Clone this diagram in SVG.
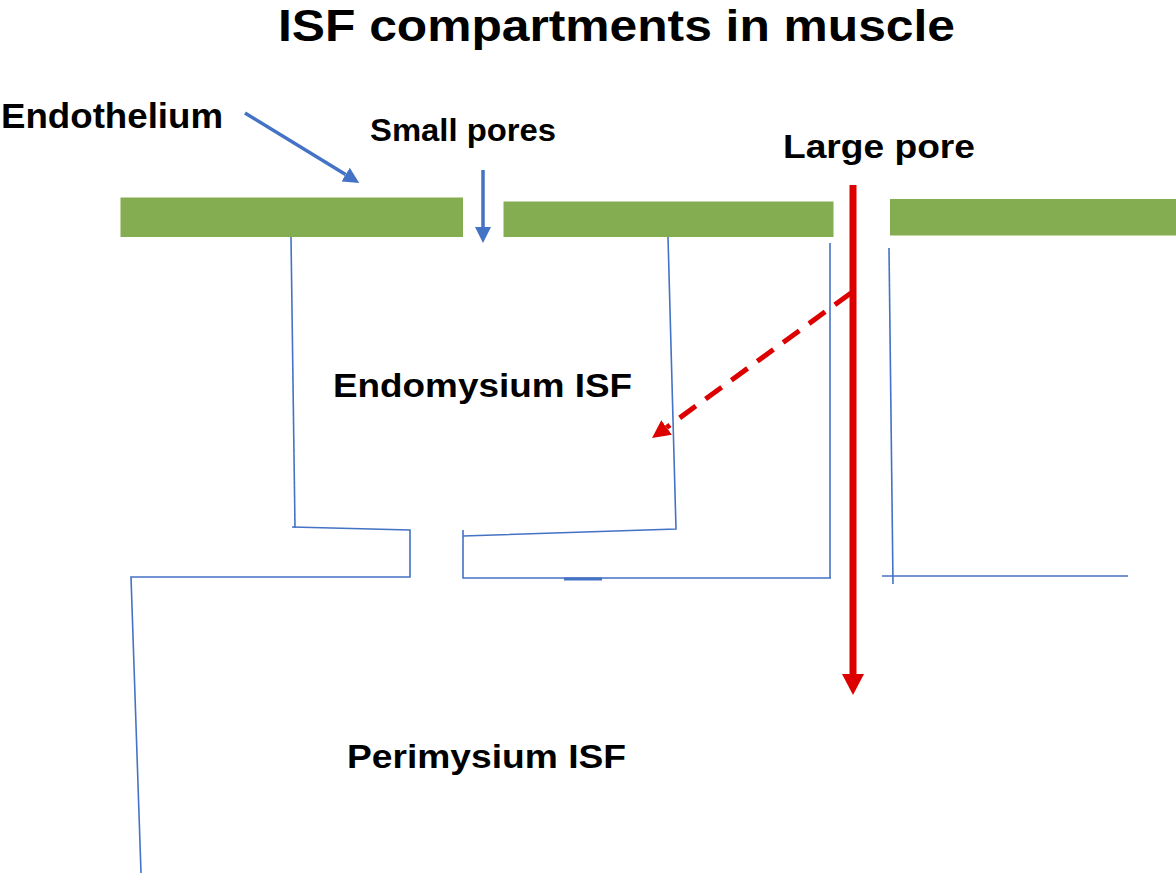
<svg xmlns="http://www.w3.org/2000/svg" width="1176" height="876" viewBox="0 0 1176 876">
<style>
text{font-family:"Liberation Sans",Arial,sans-serif;font-weight:bold;fill:#000}
.bar{fill:#84AC50}
.thin{fill:none;stroke:#4472C4;stroke-width:1.6;stroke-linejoin:miter}
.barrow{fill:none;stroke:#4472C4;stroke-width:3.5}
.red{fill:none;stroke:#DD0000;stroke-width:7}
.reddash{fill:none;stroke:#DD0000;stroke-width:5;stroke-dasharray:20 12}
</style>
<defs>
<marker id="bh" viewBox="0 0 16 16" refX="0" refY="8" markerWidth="16" markerHeight="16" markerUnits="userSpaceOnUse" orient="auto"><path d="M0,0 L16,8 L0,16 z" fill="#4472C4"/></marker>
<marker id="rh" viewBox="0 0 18 18" refX="0" refY="9" markerWidth="18" markerHeight="18" markerUnits="userSpaceOnUse" orient="auto"><path d="M0,0 L18,9 L0,18 z" fill="#DD0000"/></marker>
<marker id="rhb" viewBox="0 0 21 22" refX="0" refY="11" markerWidth="21" markerHeight="22" markerUnits="userSpaceOnUse" orient="auto"><path d="M0,0 L21,11 L0,22 z" fill="#DD0000"/></marker>
</defs>
<rect width="1176" height="876" fill="#fff"/>
<g id="title"><text x="278" y="40.5" font-size="45" textLength="677" lengthAdjust="spacingAndGlyphs">ISF compartments in muscle</text></g>
<g id="endothelium">
<rect class="bar" x="120.5" y="197.5" width="342.5" height="39.5"/>
<rect class="bar" x="503.5" y="201.5" width="330" height="35.5"/>
<rect class="bar" x="890" y="199" width="286" height="36.5"/>
</g>
<g id="labels">
<text x="1" y="128" font-size="35" textLength="222" lengthAdjust="spacingAndGlyphs">Endothelium</text>
<text x="370" y="141" font-size="31" textLength="186" lengthAdjust="spacingAndGlyphs">Small pores</text>
<text x="783" y="158" font-size="34" textLength="192" lengthAdjust="spacingAndGlyphs">Large pore</text>
<text x="333" y="397" font-size="34" textLength="299" lengthAdjust="spacingAndGlyphs">Endomysium ISF</text>
<text x="347" y="768" font-size="33" textLength="279" lengthAdjust="spacingAndGlyphs">Perimysium ISF</text>
</g>
<g id="compartments">
<path class="thin" d="M291,237 L295,528"/>
<path class="thin" d="M292,527 L410,530 L410,577 L131,577 L141,873"/>
<path class="thin" d="M463,530 L463,578 L831,578"/>
<path class="thin" d="M463,536 L676,529 L668,237"/>
<path d="M564,579 L602,579" stroke="#4472C4" stroke-width="3"/>
<path class="thin" d="M830,243 L830,578"/>
<path class="thin" d="M889,248 L893,584"/>
<path class="thin" d="M882,576 L1128,576"/>
</g>
<g id="connectors">
<path class="barrow" d="M245,113 L345.6,174.6" marker-end="url(#bh)"/>
<path class="barrow" d="M483,170 L483,227" marker-end="url(#bh)"/>
<path class="red" d="M853,185 L853,674" marker-end="url(#rhb)"/>
<path class="reddash" d="M851,293 L666.6,427.4" marker-end="url(#rh)"/>
</g>
</svg>
